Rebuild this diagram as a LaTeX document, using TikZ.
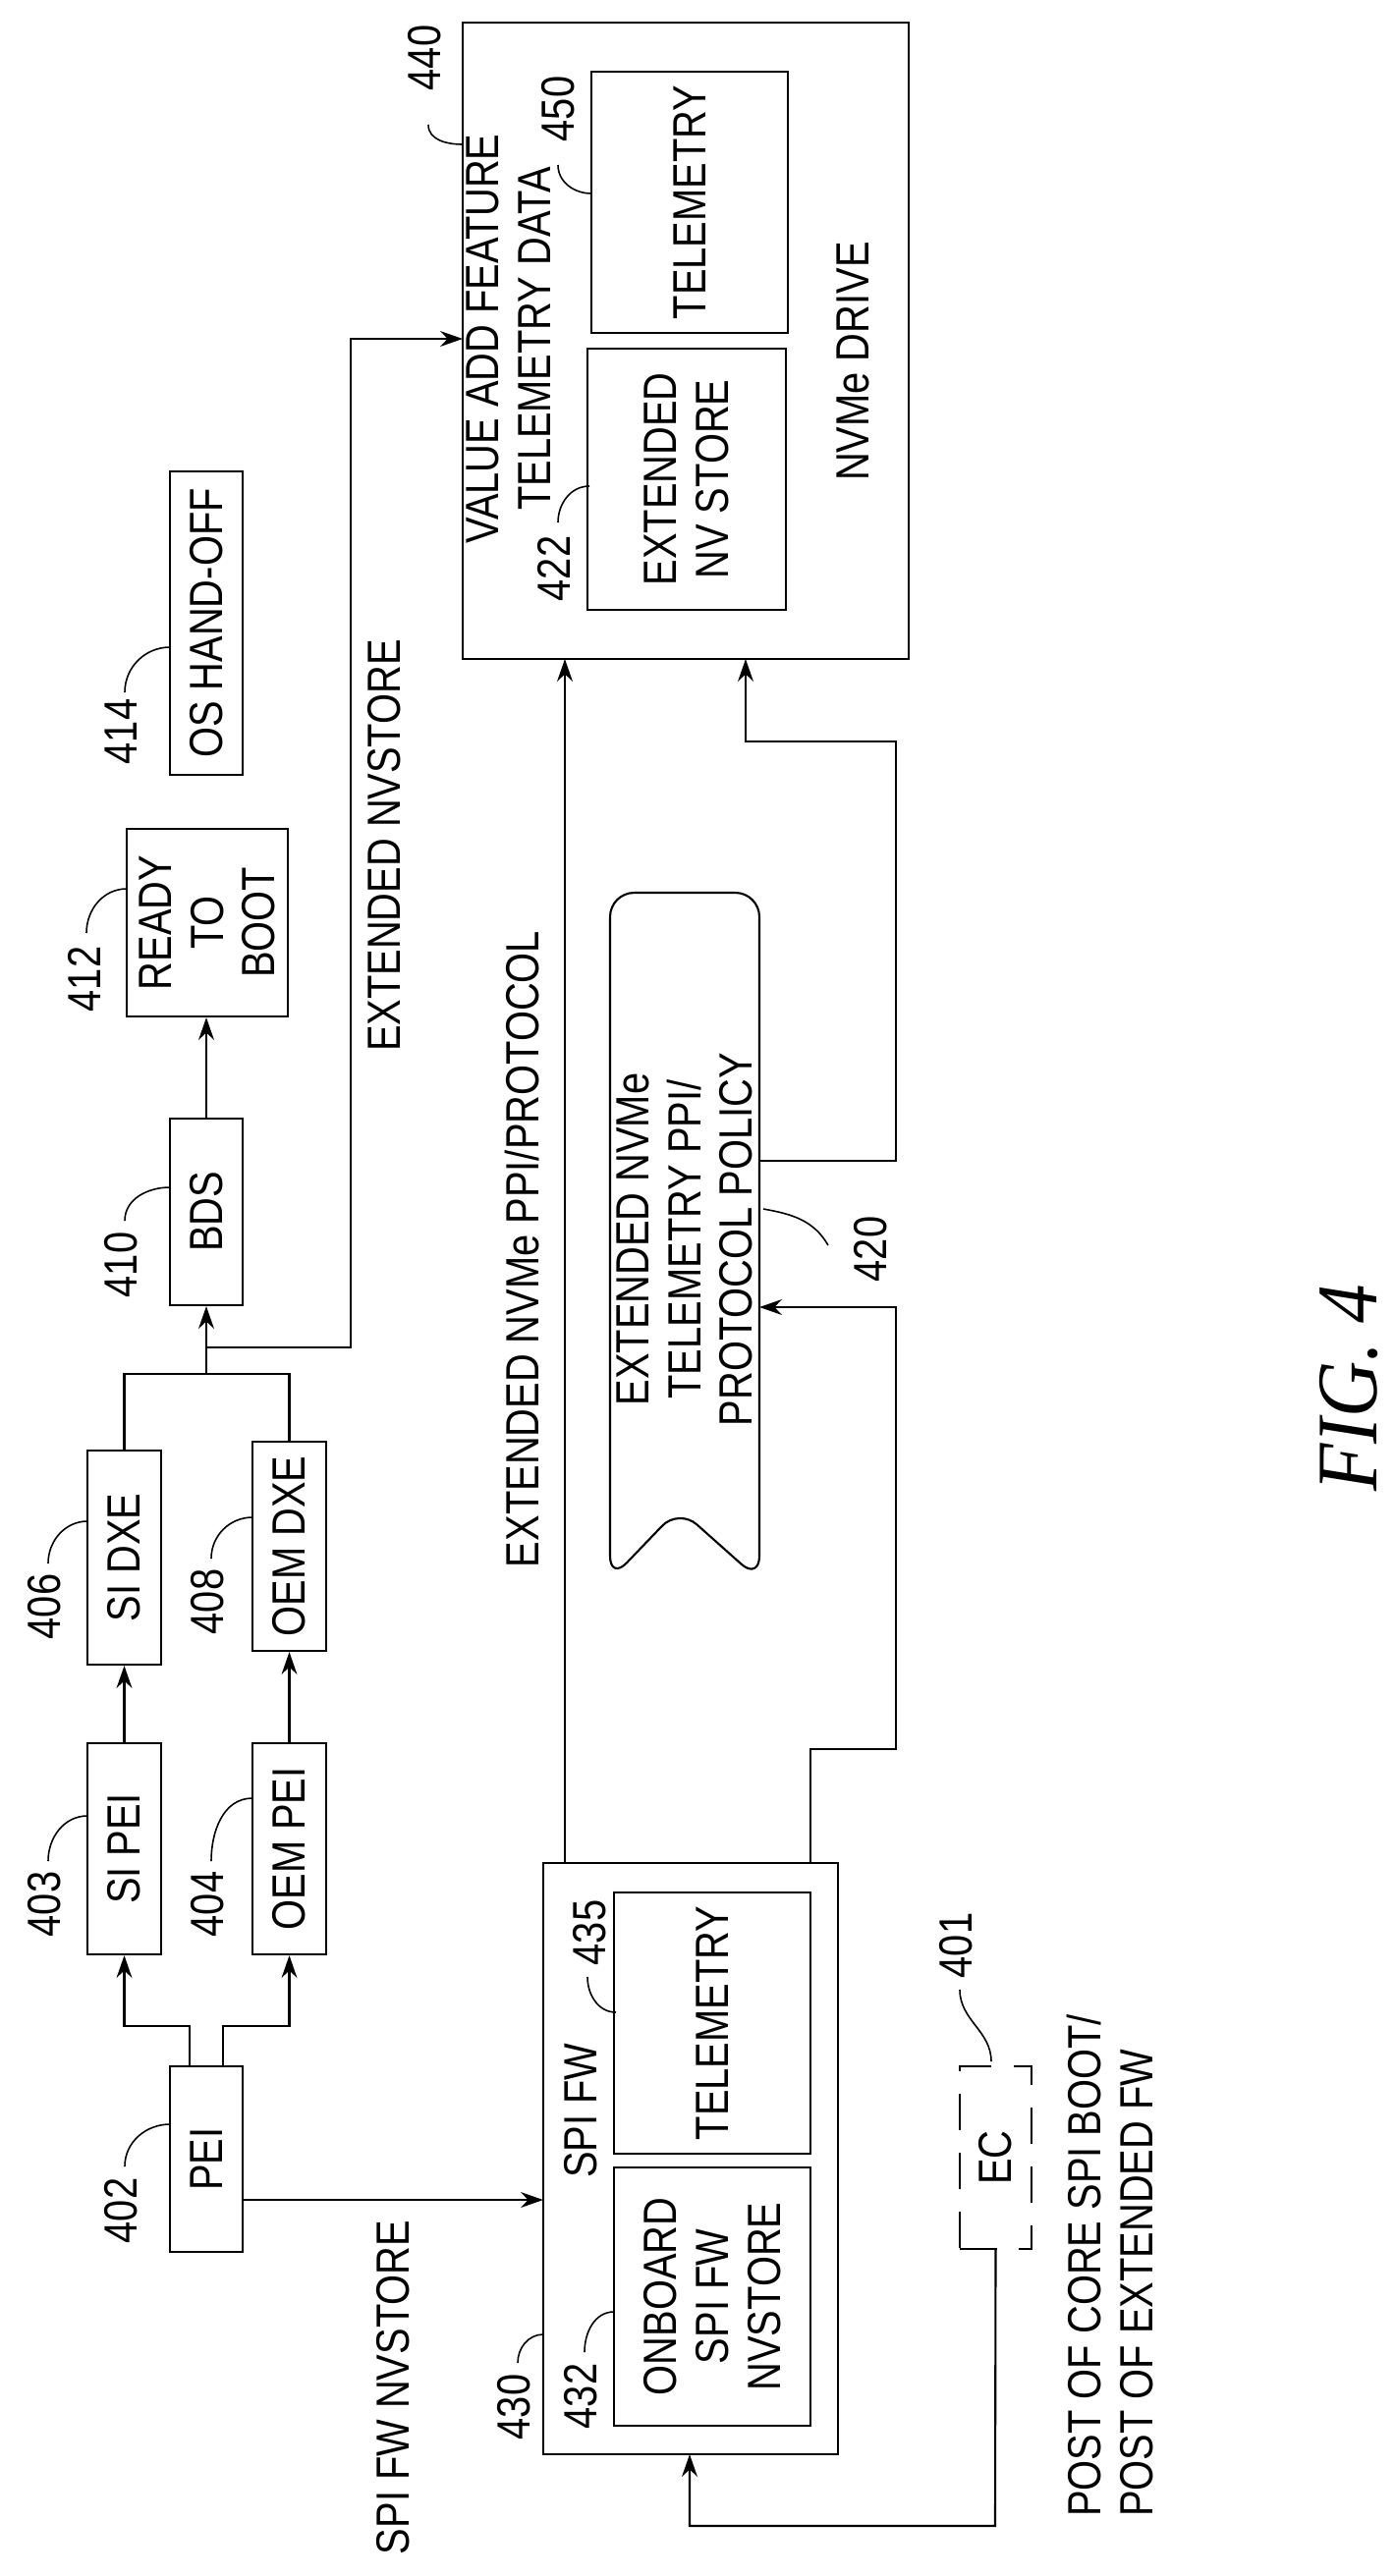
\documentclass[tikz,border=0pt]{standalone}
\usepackage{fontspec}
\setmainfont[FakeStretch=0.84]{Liberation Sans}
\newfontfamily\figfont[FakeStretch=0.9]{Liberation Serif}
\usetikzlibrary{arrows.meta,fit}
\begin{document}
\begin{tikzpicture}[x=0.02cm,y=-0.02cm,
 ln/.style={line width=1.2pt},
 box/.style={draw,line width=1.2pt,inner sep=0pt},
 arr/.style={ln,-{Stealth[length=13pt,width=9pt]}},
 txt/.style={rotate=90,align=center,font=\fontsize{27}{30}\selectfont,inner sep=0pt},
 lbl/.style={rotate=90,font=\fontsize{27}{30}\selectfont,inner sep=0pt},
 lead/.style={line width=0.9pt}]
\useasboundingbox (0,0) rectangle (1419,2623);
% NVMe drive
\node[box,fit={(471,23)(925,671)}] (nvme) {};
\node[box,fit={(602,73)(802,339)}] (tel450) {};
\node[box,fit={(598,355)(800,621)}] (nvs) {};
\node[txt] (vaf) at (518,345) {VALUE ADD FEATURE\\TELEMETRY DATA};
\node[txt] (t450) at (tel450) {TELEMETRY};
\node[txt] (t422) at (nvs) {EXTENDED\\NV STORE};
\node[txt] (tdrive) at (868,368) {NVMe DRIVE};
% boot chain
\node[box,fit={(173,480)(247,789)}] (os) {};
\node[txt] (tos) at (os) {OS HAND-OFF};
\node[box,fit={(129,844)(293,1035)}] (rtb) {};
\node[txt] (trtb) at (rtb) {READY\\TO\\BOOT};
\node[box,fit={(173,1139)(247,1329)}] (bds) {};
\node[txt] (tbds) at (bds) {BDS};
\node[box,fit={(89,1477)(164,1695)}] (sidxe) {};
\node[txt] (tsidxe) at (sidxe) {SI DXE};
\node[box,fit={(257,1468)(332,1681)}] (oemdxe) {};
\node[txt] (toemdxe) at (oemdxe) {OEM DXE};
\node[box,fit={(89,1775)(164,1990)}] (sipei) {};
\node[txt] (tsipei) at (sipei) {SI PEI};
\node[box,fit={(257,1775)(332,1990)}] (oempei) {};
\node[txt] (toempei) at (oempei) {OEM PEI};
\node[box,fit={(173,2104)(247,2293)}] (pei) {};
\node[txt] (tpei) at (pei) {PEI};
% SPI FW
\node[box,fit={(553,1897)(853,2499)}] (spi) {};
\node[box,fit={(625,1927)(825,2193)}] (tel435) {};
\node[box,fit={(625,2207)(825,2470)}] (onb) {};
\node[txt] (tspi) at (591,2149) {SPI FW};
\node[txt] (t435) at (tel435) {TELEMETRY};
\node[txt] (tonb) at (onb) {ONBOARD\\SPI FW\\NVSTORE};
% EC
\node[draw,line width=1.2pt,dash pattern=on 0.75cm off 0.45cm,inner sep=0pt,fit={(977,2104)(1050,2290)}] (ec) {};
\node[txt] (tec) at (ec) {EC};
% policy
\draw[ln,rounded corners=14pt] (691,1536) -- (621,1609) -- (621,909) -- (773,909) -- (773,1609) -- cycle;
\node[txt] (pol) at (697,1262) {EXTENDED NVMe\\TELEMETRY PPI/\\PROTOCOL POLICY};
\coordinate (polA) at (773,1331);
\coordinate (polB) at (773,1182);
% free texts
\node[txt] (xnv) at (391,861) {EXTENDED NVSTORE};
\node[txt] (xppi) at (532,1272) {EXTENDED NVMe PPI/PROTOCOL};
\node[txt] (spinv) at (400,2431) {SPI FW NVSTORE};
\node[txt,align=left,anchor=west] (post) at (1130,2563) {POST OF CORE SPI BOOT/\\POST OF EXTENDED FW};
\node[rotate=90,font=\figfont\itshape\fontsize{50}{50}\selectfont] (fig) at (1373,1413) {FIG. 4};
% connectors
\coordinate (pa) at (193,2104);
\coordinate (pb) at (227,2104);
\draw[arr] (pa) -- (193,2063) -| (sipei.south);
\draw[arr] (pb) -- (227,2063) -| (oempei.south);
\draw[arr] (sipei.north) -- (sidxe.south);
\draw[arr] (oempei.north) -- (oemdxe.south);
\coordinate (m) at (210,1399);
\draw[ln] (sidxe.north) |- (m) -| (oemdxe.north);
\draw[arr] (m) -- (bds.south);
\draw[arr] (bds.north) -- (rtb.south -| bds.north);
\coordinate (e0) at (210,1372);
\coordinate (nvin) at (471,345);
\draw[arr] (e0) -- (357,1372) -- (357,345) -- (nvin);
\coordinate (pe) at (247,2240);
\coordinate (se) at (553,2240);
\draw[arr] (pe) -- (se);
\coordinate (s1) at (575,1897);
\coordinate (n1) at (575,671);
\draw[arr] (s1) -- (n1);
\coordinate (n2) at (759,671);
\draw[arr] (polB) -- (912,1182) -- (912,755) -- (759,755) -- (n2);
\coordinate (s2) at (825,1897);
\draw[arr] (s2) -- (825,1781) -- (912,1781) -- (912,1331) -- (polA);
\coordinate (s3) at (702,2499);
\draw[arr] (ec.south) -- (1013,2572) -- (702,2572) -- (s3);
% reference labels
\node[lbl] (l440) at (432,59) {440};
\draw[lead] (436,127) to[out=-90,in=180] (471,147);
\node[lbl] (l450) at (568,111) {450};
\draw[lead] (568,168) to[out=-90,in=180] (602,197);
\node[lbl] (l422) at (564,579) {422};
\draw[lead] (568,532) to[out=90,in=180] (600,495);
\node[lbl] (l414) at (123,745) {414};
\draw[lead] (127,705) to[out=90,in=180] (173,659);
\node[lbl] (l412) at (86,997) {412};
\draw[lead] (88,950) to[out=90,in=180] (129,905);
\node[lbl] (l410) at (123,1288) {410};
\draw[lead] (127,1243) to[out=90,in=180] (173,1209);
\node[lbl] (l406) at (45,1636) {406};
\draw[lead] (49,1592) to[out=90,in=180] (89,1549);
\node[lbl] (l408) at (211,1631) {408};
\draw[lead] (215,1587) to[out=90,in=180] (257,1545);
\node[lbl] (l403) at (45,1939) {403};
\draw[lead] (49,1895) to[out=90,in=180] (89,1849);
\node[lbl] (l404) at (211,1939) {404};
\draw[lead] (215,1895) to[out=90,in=180] (257,1831);
\node[lbl] (l402) at (123,2251) {402};
\draw[lead] (127,2206) to[out=90,in=180] (173,2163);
\node[lbl] (l430) at (523,2451) {430};
\draw[lead] (527,2406) to[out=90,in=180] (553,2377);
\node[lbl] (l432) at (591,2440) {432};
\draw[lead] (595,2395) to[out=90,in=180] (625,2354);
\node[lbl] (l435) at (600,1968) {435};
\draw[lead] (598,2013) to[out=-90,in=180] (627,2049);
\node[lbl] (l401) at (973,1981) {401};
\draw[lead] (977,2026) to[out=-90,in=90] (1009,2099);
\node[lbl] (l420) at (886,1272) {420};
\draw[lead] (843,1268) to[out=120,in=-10] (777,1231);
\end{tikzpicture}
\end{document}
